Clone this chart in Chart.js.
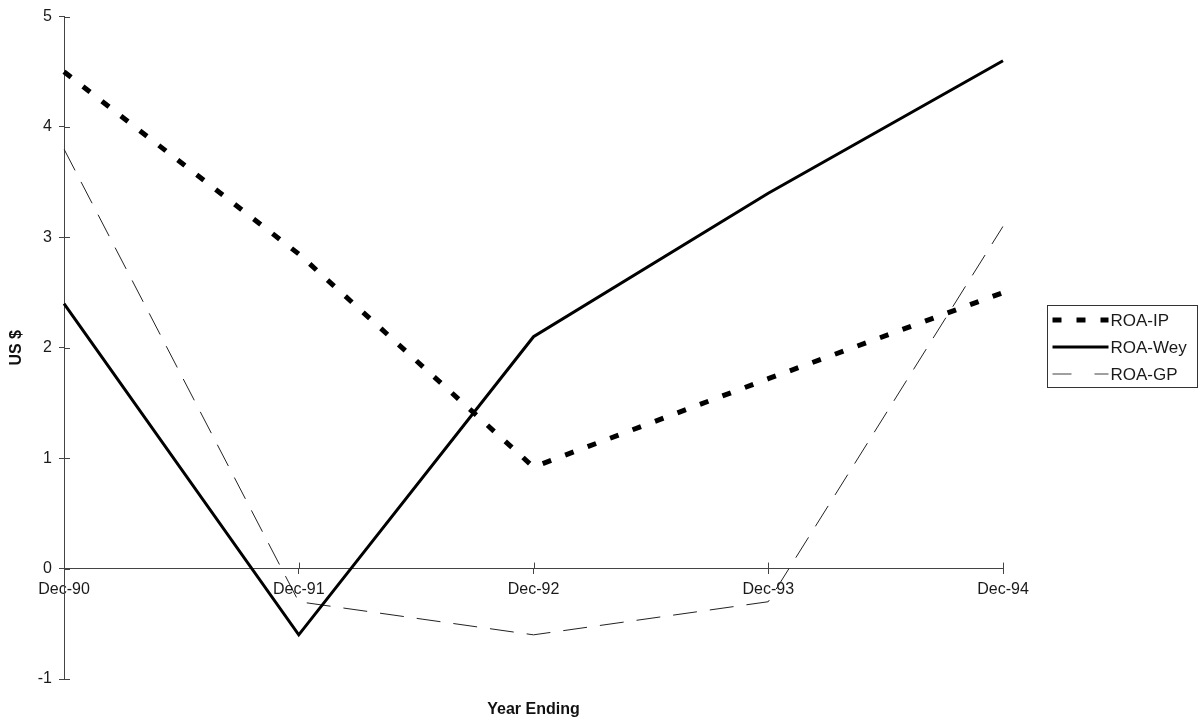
<!DOCTYPE html>
<html>
<head>
<meta charset="utf-8">
<script src="https://cdn.jsdelivr.net/npm/chart.js@4.4.1/dist/chart.umd.min.js"></script>
<style>
  html, body { margin: 0; padding: 0; background: #ffffff; }
  #wrap { width: 1204px; height: 726px; }
</style>
</head>
<body>
<div id="wrap"><canvas id="roa" width="1204" height="726"></canvas></div>
<script>
// Return on assets by year end
const categories = ['Dec-90', 'Dec-91', 'Dec-92', 'Dec-93', 'Dec-94'];
const roaIP  = [4.5, 2.85, 0.92, 1.72, 2.5];
const roaWey = [2.4, -0.6, 2.1, 3.4, 4.6];
const roaGP  = [3.8, -0.3, -0.6, -0.3, 3.1];
const seriesNames = ['ROA-IP', 'ROA-Wey', 'ROA-GP'];
const yMin = -1, yMax = 5, yStep = 1;

const FONT = "'Liberation Sans', Arial, sans-serif";
const AXIS = '#444444';
const TEXT = '#1a1a1a';

// short tick marks on the inner side of both axes (outer side comes from the scale)
const innerTicks = {
  id: 'innerTicks',
  beforeDatasetsDraw(chart) {
    const { ctx, scales: { x, y } } = chart;
    ctx.save();
    ctx.strokeStyle = AXIS;
    ctx.lineWidth = 1;
    ctx.beginPath();
    y.ticks.forEach(t => {
      const py = Math.round(y.getPixelForValue(t.value)) + 0.5;
      ctx.moveTo(x.left, py); ctx.lineTo(x.left + 6, py);
    });
    const zeroY = y.getPixelForValue(0);
    categories.forEach((c, i) => {
      const px = Math.round(x.getPixelForValue(i)) + 0.5;
      ctx.moveTo(px, zeroY - 6); ctx.lineTo(px, zeroY);
    });
    ctx.stroke();
    ctx.restore();
  }
};

// x-axis caption and boxed legend
const extras = {
  id: 'extras',
  afterDraw(chart) {
    const { ctx, chartArea } = chart;
    ctx.save();
    ctx.fillStyle = '#111111';
    ctx.font = "bold 16px " + FONT;
    ctx.textAlign = 'center';
    ctx.textBaseline = 'middle';
    ctx.fillText('Year Ending', (chartArea.left + chartArea.right) / 2, 710);

    const bx = 1047.5, by = 305.5, bw = 150, bh = 82;
    ctx.strokeStyle = '#333333';
    ctx.lineWidth = 1;
    ctx.strokeRect(bx, by, bw, bh);
    ctx.font = "17px " + FONT;
    ctx.textAlign = 'left';
    chart.data.datasets.forEach((ds, i) => {
      const ry = by + 14.5 + i * 27;
      ctx.save();
      ctx.strokeStyle = ds.legendColor || ds.borderColor;
      ctx.lineWidth = ds.legendWidth || ds.borderWidth;
      ctx.setLineDash(ds.legendDash || []);
      ctx.beginPath();
      ctx.moveTo(bx + 5, ry);
      ctx.lineTo(bx + 61, ry);
      ctx.stroke();
      ctx.restore();
      ctx.fillStyle = TEXT;
      ctx.fillText(ds.label, bx + 63, ry + 1);
    });
    ctx.restore();
  }
};

new Chart(document.getElementById('roa'), {
  type: 'line',
  data: {
    labels: categories,
    datasets: [
      { label: seriesNames[0], data: roaIP, borderColor: '#000000', borderWidth: 5,
        borderDash: [9, 15], legendDash: [9, 15], borderCapStyle: 'butt' },
      { label: seriesNames[1], data: roaWey, borderColor: '#000000', borderWidth: 3 },
      { label: seriesNames[2], data: roaGP, borderColor: '#222222', borderWidth: 1,
        borderDash: [24, 13], legendDash: [19, 23], legendColor: '#808080', legendWidth: 1.5 }
    ]
  },
  options: {
    responsive: false,
    animation: false,
    events: [],
    elements: { point: { radius: 0 }, line: { tension: 0, fill: false } },
    layout: { padding: { left: 0, top: 15, right: 201, bottom: 47 } },
    plugins: { legend: { display: false }, tooltip: { enabled: false } },
    scales: {
      x: {
        position: { y: 0 },
        offset: false,
        grid: { display: true, drawOnChartArea: false, drawTicks: true, tickLength: 5, color: AXIS },
        border: { color: AXIS, width: 1 },
        ticks: { color: TEXT, font: { family: FONT, size: 16 }, padding: 6, maxRotation: 0, autoSkip: false }
      },
      y: {
        min: yMin, max: yMax,
        afterFit(scale) { scale.width = 64; },
        grid: { display: true, drawOnChartArea: false, drawTicks: true, tickLength: 5, color: AXIS },
        border: { color: AXIS, width: 1 },
        ticks: { stepSize: yStep, color: TEXT, font: { family: FONT, size: 16 }, padding: 7 },
        title: { display: true, text: 'US $', color: '#111111',
                 font: { family: FONT, size: 16, weight: 'bold' }, padding: { top: 7, bottom: 0 } }
      }
    }
  },
  plugins: [innerTicks, extras]
});
</script>
</body>
</html>
